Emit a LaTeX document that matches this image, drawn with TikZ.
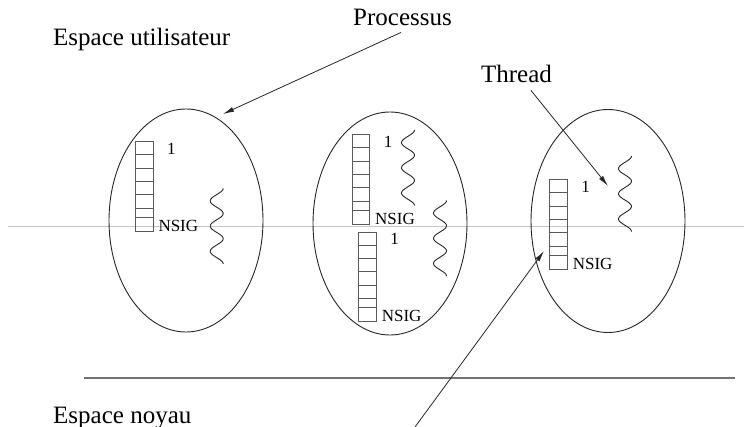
\documentclass[tikz,border=0pt]{standalone}
\usepackage{fontspec}
\setmainfont{Liberation Serif}
\usetikzlibrary{shapes.geometric,arrows.meta,calc}

% one signal table: a column of slots numbered 1 .. NSIG
\newcommand{\sigstack}[3]{% name, left edge, top edge
  \node[stk, anchor=north west] (#1) at (#2,#3) {};
  \foreach \d in {13.3,26.7,40,53.3,66.7,76}
    \draw[stkline] ([yshift=-\d pt]#1.north west) -- ([yshift=-\d pt]#1.north east);
  \node[lab, anchor=base] (#1one) at ([shift={(18,13)}]#1.north east) {1};
  \node[lab, anchor=base west] (#1nsig) at ([xshift=5pt]#1.south east) {NSIG};
}
% a thread drawn as a vertical wavy line
\newcommand{\threadwave}[2]{% centre x, top y
  \draw[wave] plot[domain=0:6, samples=73, smooth] ({#1+6.5*cos(\x*180)}, {#2+\x*12.6});
}

\begin{document}
\begin{tikzpicture}[x=1pt, y=-1pt,
  big/.style={font=\fontsize{25}{30}\selectfont, inner sep=0pt, text=black},
  lab/.style={font=\fontsize{17}{20}\selectfont, inner sep=0pt, text=black},
  proc/.style={draw=black!85, ellipse, line width=0.9pt, minimum width=154pt, minimum height=223pt, inner sep=0pt},
  stk/.style={draw=black!65, line width=0.8pt, minimum width=17.5pt, minimum height=89.5pt, inner sep=0pt},
  stkline/.style={draw=black!65, line width=0.8pt},
  wave/.style={draw=black!85, line width=0.9pt},
  arr/.style={draw=black!85, line width=0.8pt, -{Latex[length=11pt,width=5pt]}},
  sepline/.style={draw=black!55, line width=1.3pt},
  guide/.style={draw=black!22, line width=0.8pt}]

\useasboundingbox (0,0) rectangle (744,427);

% faint guide line across the middle
\draw[guide] (8,226) -- (744,226);

% user space / kernel space boundary
\draw[sepline] (84,378) -- (735,378);

% titles
\node[big, anchor=base west] (us) at (53,46) {Espace utilisateur};
\node[big, anchor=base west] (ks) at (53,423) {Espace noyau};
\node[big, anchor=base] (proctxt) at (402.5,26) {Processus};
\node[big, anchor=base] (thrtxt) at (516.5,83) {Thread};

% the three processes
\node[proc] (p1) at (186,220.5) {};
\node[proc] (p2) at (390,223.5) {};
\node[proc] (p3) at (608,221) {};

% signal tables
\sigstack{sA}{135}{141.3}
\sigstack{sB}{351.7}{134.3}
\sigstack{sC}{358.3}{231.7}
\sigstack{sD}{549.3}{179.3}

% threads
\threadwave{216.7}{188.3}
\threadwave{408}{130}
\threadwave{440}{200.5}
\threadwave{625}{156}

% pointers
\coordinate (tipP) at (223,114);
\coordinate (tipT) at (608,186);
\coordinate (tipS) at (544,251);
\coordinate (tailS) at (415,427);
\draw[arr] ([shift={(-1.5,6)}]proctxt.south) -- (tipP);
\draw[arr] ([shift={(14.5,7)}]thrtxt.south) -- (tipT);
\draw[arr] (tailS) -- (tipS);

\end{tikzpicture}
\end{document}
